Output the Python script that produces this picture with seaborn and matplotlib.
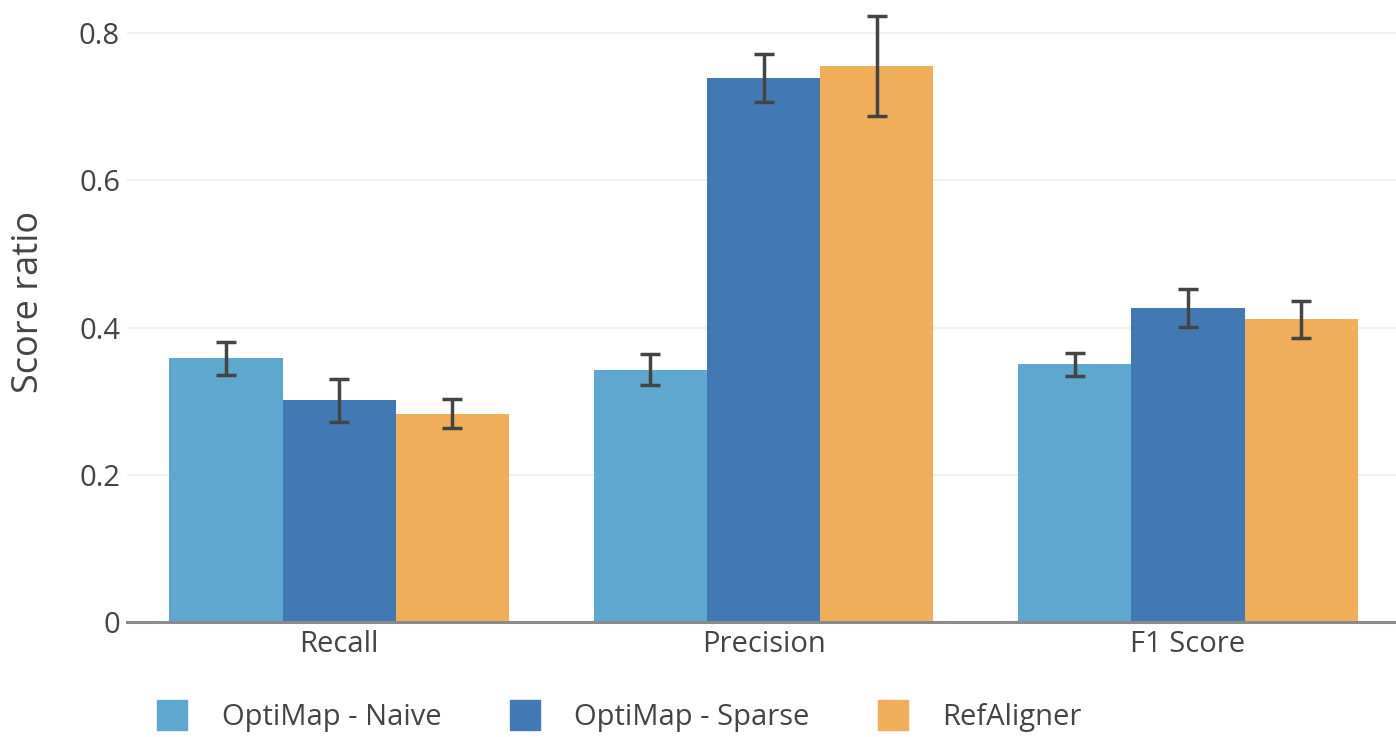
import pandas as pd
import matplotlib.pyplot as plt
import seaborn as sns
from matplotlib.lines import Line2D

# values
metrics = ["Recall", "Precision", "F1 Score"]
methods = ["OptiMap - Naive", "OptiMap - Sparse", "RefAligner"]
naive = [0.358, 0.343, 0.350]
sparse = [0.301, 0.739, 0.427]
refaligner = [0.283, 0.755, 0.411]
naive_err = [0.022, 0.021, 0.016]
sparse_err = [0.029, 0.032, 0.026]
refaligner_err = [0.020, 0.068, 0.025]

colors = ["#5ea7cf", "#4279b4", "#f0ae5a"]

rows = []
for m, vals, errs in zip(methods, [naive, sparse, refaligner], [naive_err, sparse_err, refaligner_err]):
    for metric, v, e in zip(metrics, vals, errs):
        rows.append({"Metric": metric, "Method": m, "Score": v, "Err": e})
df = pd.DataFrame(rows)

sns.set_style("white")
plt.rcParams["font.family"] = ["Open Sans", "DejaVu Sans"]

fig = plt.figure(figsize=(13.96, 7.37), dpi=100)
ax = fig.add_axes([0.091, 0.156, 0.912, 0.844])

sns.barplot(data=df, x="Metric", y="Score", hue="Method", order=metrics,
            hue_order=methods, palette=colors, width=0.8, errorbar=None,
            saturation=1, linewidth=0, ax=ax, legend=False, zorder=2)

# error bars on each bar
for container, m in zip(ax.containers, methods):
    sub = df[df["Method"] == m].set_index("Metric").loc[metrics]
    xs = [b.get_x() + b.get_width() / 2 for b in container]
    ax.errorbar(xs, sub["Score"], yerr=sub["Err"], fmt="none", ecolor="#444444",
                elinewidth=2.5, capsize=7, capthick=2.5, zorder=3)

ax.set_xlim(-0.5, 2.5)
ax.set_ylim(0, 0.845)
ax.set_yticks([0, 0.2, 0.4, 0.6, 0.8])
ax.set_yticklabels(["0", "0.2", "0.4", "0.6", "0.8"])
ax.yaxis.grid(True, color="#f0f0f0", linewidth=1.5, zorder=0)
ax.set_axisbelow(True)
for s in ["top", "right", "left"]:
    ax.spines[s].set_visible(False)
ax.spines["bottom"].set_color("#8a8a8a")
ax.spines["bottom"].set_linewidth(2.2)
ax.spines["bottom"].set_zorder(4)
ax.tick_params(axis="y", length=0, labelsize=21, labelcolor="#444444", pad=5)
ax.tick_params(axis="x", length=0, labelsize=21, labelcolor="#444444", pad=6)
ax.set_xlabel("")
ax.set_ylabel("Score ratio", fontsize=26, color="#444444")
ax.yaxis.set_label_coords(-0.0625, 0.515)

handles = [Line2D([0], [0], marker="s", linestyle="none", markersize=21,
                  markerfacecolor=c, markeredgecolor=c) for c in colors]
fig.legend(handles, methods, loc="center left", bbox_to_anchor=(0.113, 0.026),
           ncol=3, frameon=False, fontsize=21, labelcolor="#444444",
           handlelength=1.0, handletextpad=1.2, columnspacing=2.35,
           borderpad=0, borderaxespad=0)

fig.savefig("out.png", dpi=100)
